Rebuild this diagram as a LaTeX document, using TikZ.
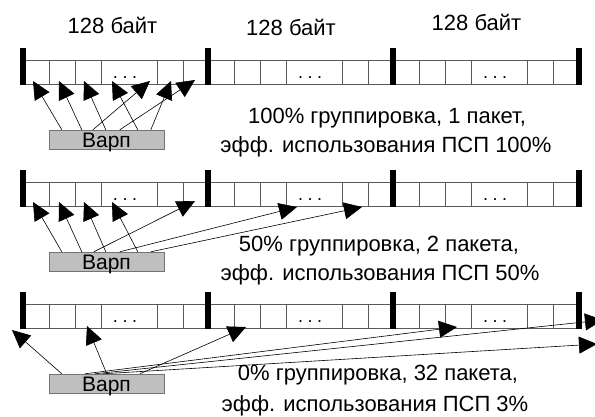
\documentclass[tikz,border=0pt]{standalone}
\usepackage{fontspec}
\setmainfont{Liberation Sans}
\usetikzlibrary{arrows.meta}

\begin{document}
\begin{tikzpicture}[x=1pt, y=-1pt, >={Triangle[length=18pt, width=17pt]},
      cell/.style={draw=black!65, line width=0.7pt},
      bar/.style={line width=5.5pt},
      dots/.style={font=\fontsize{18}{18}\selectfont, anchor=base},
      warp/.style={draw=black!55, fill=black!25, minimum width=115pt, minimum height=19pt,
                   inner sep=0pt, text height=15pt, text depth=0pt, font=\fontsize{21}{21}\selectfont},
      lbl/.style={font=\fontsize{22}{22}\selectfont, anchor=base},
      acc/.style={->, line width=0.6pt}]

    \useasboundingbox (0,0) rectangle (595,416);

    % segment sizes
    \node[lbl] (s1) at (112.5,33) {128 байт};
    \node[lbl] (s2) at (291,35)   {128 байт};
    \node[lbl] (s3) at (476.5,30) {128 байт};

    % three copies of memory, 3 segments each, rows 122pt apart
    \foreach \r in {0,122,244} {
      \draw[cell] (23,60+\r) -- (579,60+\r) (23,84.5+\r) -- (579,84.5+\r);
      \foreach \s in {23,208,393} {
        \foreach \c in {26.5,52,78,134,160}
          \draw[cell] (\s+\c,60+\r) -- (\s+\c,84.5+\r);
        \node[dots] (d-\r-\s) at (\s+102,78+\r) {.\hspace{4.5pt}.\hspace{4.5pt}.};
      }
      \foreach \s in {23,208,393,579}
        \draw[bar] (\s,48+\r) -- (\s,85+\r);
    }

    % warps
    \node[warp] (w1) at (106.5,139.5) {Варп};
    \node[warp] (w2) at (106.5,261.5) {Варп};
    \node[warp] (w3) at (106.5,383.5) {Варп};

    % thread accesses: warp, offset on its top edge, target address
    \foreach \w/\dx/\x/\y [count=\i] in {
        w1/13/33/81, w1/33/59/81, w1/57/84/81, w1/89/112/81,
        w1/44/150/81, w1/102/171/81, w1/71/195/80,
        w2/13/33/202, w2/33/59/202, w2/57/84/202, w2/89/112/202,
        w2/45/195/201, w2/71/297/207, w2/102/362/207,
        w3/13/12/330, w3/58/87/326, w3/91/246/327,
        w3/36/457/327, w3/46/603/320, w3/54/597/344} {
      \coordinate (t\i) at (\x,\y);
      \draw[acc] ([xshift=\dx pt]\w.north west) -- (t\i);
    }

    % captions
    \node[lbl] (c1a) at (387,123) {100\% группировка, 1 пакет,};
    \node[lbl] (c1b) at (386,152) {эфф. использования ПСП 100\%};
    \node[lbl] (c2a) at (379,251.5) {50\% группировка, 2 пакета,};
    \node[lbl] (c2b) at (380,280) {эфф. использования ПСП 50\%};
    \node[lbl] (c3a) at (378,380) {0\% группировка, 32 пакета,};
    \node[lbl] (c3b) at (375,411) {эфф. использования ПСП 3\%};

\end{tikzpicture}
\end{document}
